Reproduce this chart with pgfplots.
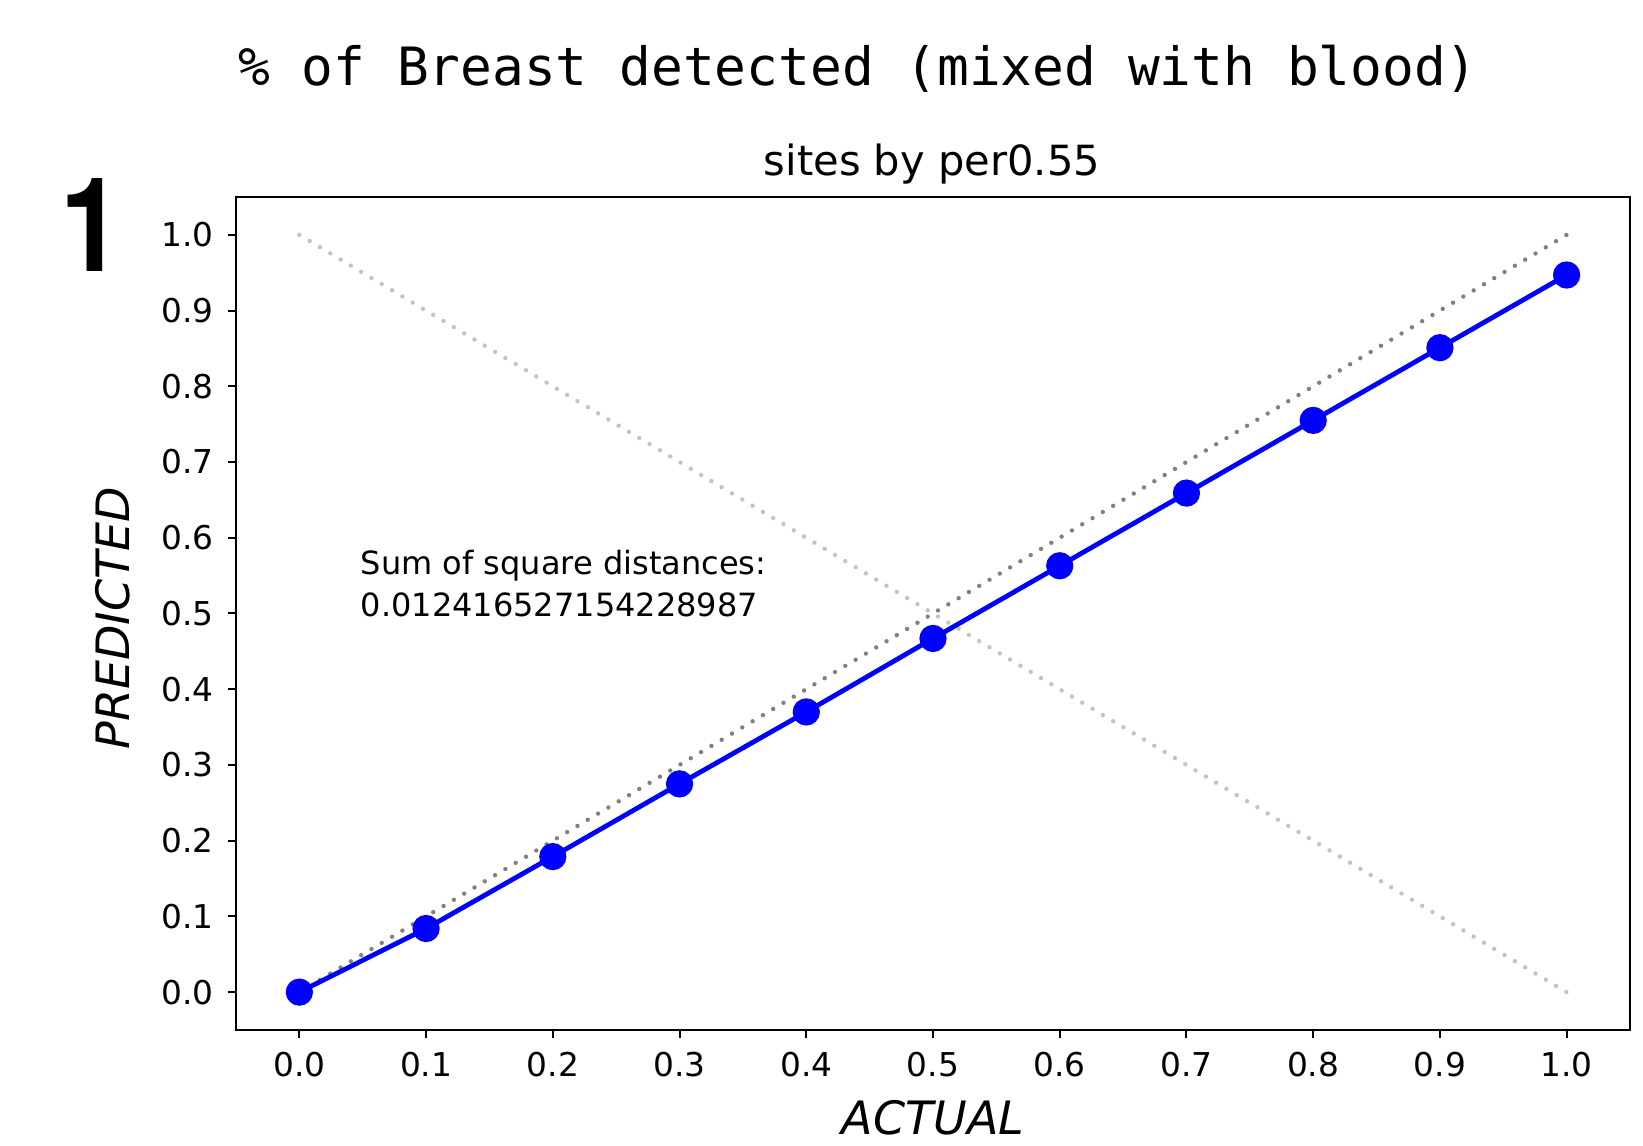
\documentclass[border=0pt]{standalone}
\usepackage{pgfplots}
\pgfplotsset{compat=1.18}
\usepackage{fontspec}
\setmainfont{DejaVu Sans}
\newfontfamily\monofont{DejaVu Sans Mono}
\newfontfamily\numfont{TeX Gyre Heros}
\definecolor{mblue}{RGB}{0,0,255}
\definecolor{dgray}{RGB}{128,128,128}
\definecolor{lgray}{RGB}{195,195,195}
\begin{document}
\begin{tikzpicture}
\path[use as bounding box] (0,0) rectangle (410.75pt,286.5pt);
\begin{axis}[
  at={(59pt,29pt)}, anchor=south west,
  scale only axis, width=348.5pt, height=208.25pt,
  xmin=-0.05, xmax=1.05, ymin=-0.05, ymax=1.05,
  xtick={0,0.1,...,1.0}, ytick={0,0.1,...,1.0},
  xticklabels={0.0,0.1,0.2,0.3,0.4,0.5,0.6,0.7,0.8,0.9,1.0},
  yticklabels={0.0,0.1,0.2,0.3,0.4,0.5,0.6,0.7,0.8,0.9,1.0},
  tick align=outside, tick pos=left,
  major tick length=2pt,
  axis line style={line width=0.7pt},
  every tick/.style={black, line width=0.5pt},
  tick label style={font=\fontsize{8.2}{9}\selectfont},
  /pgf/number format/assume math mode=true,
  clip=false,
]
\addplot[lgray, line width=1.1pt, line cap=round, dash pattern=on 0pt off 3pt] coordinates {(0,1) (1,0)};
\addplot[dgray, line width=1.1pt, line cap=round, dash pattern=on 0pt off 3pt] coordinates {(0,0) (1,1)};
\addplot[mblue, line width=1.2pt, mark=*, mark size=2.8pt, mark options={fill=mblue, draw=mblue}] coordinates {
(0.0,0.000) (0.1,0.084) (0.2,0.179) (0.3,0.275) (0.4,0.370) (0.5,0.467)
(0.6,0.563) (0.7,0.659) (0.8,0.755) (0.9,0.851) (1.0,0.947)};
\node[anchor=south west, align=left, inner sep=0pt, font=\fontsize{8}{10.5}\selectfont] at (axis cs:0.048,0.495) {Sum of square distances:\\0.012416527154228987};
\end{axis}
\node[inner sep=0pt, font=\monofont\fontsize{13.2}{15}\selectfont, anchor=base] at (214.5pt,265pt) {\% of Breast detected (mixed with blood)};
\node[anchor=base, inner sep=0pt, font=\fontsize{10.4}{12}\selectfont] at (233pt,242.5pt) {sites by per0.55};
\node[anchor=base west, inner sep=0pt, xscale=0.85, font=\numfont\bfseries\fontsize{32.8}{36}\selectfont] at (15pt,218.5pt) {1};
\node[inner sep=0pt, font=\itshape\fontsize{11.5}{13}\selectfont] at (233.25pt,7pt) {ACTUAL};
\node[inner sep=0pt, rotate=90, font=\itshape\fontsize{11.5}{13}\selectfont] at (28.25pt,132pt) {PREDICTED};
\end{tikzpicture}
\end{document}
